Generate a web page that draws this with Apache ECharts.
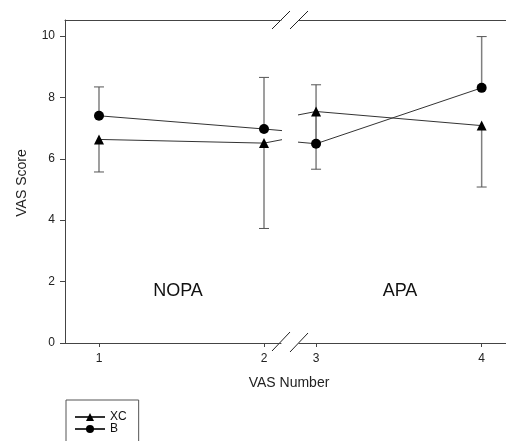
<!DOCTYPE html>
<html>
<head>
<meta charset="utf-8">
<script src="https://cdn.jsdelivr.net/npm/echarts@6/dist/echarts.min.js"></script>
<style>
html, body { margin: 0; padding: 0; background: #fff; }
#chart { width: 506px; height: 441px; }
</style>
</head>
<body>
<div id="chart"></div>
<script>
// values
var vasNumber = [1, 2, 3, 4];
var xcScore = [6.63, 6.51, 7.54, 7.08];
var xcErrDown = [1.06, 2.78, 1.88, 2.00];
var bScore = [7.40, 6.97, 6.49, 8.31];
var bErrUp = [0.94, 1.68, 1.92, 1.67];
var yTicks = [0, 2, 4, 6, 8, 10];
var leftTicks = [1, 2];
var rightTicks = [3, 4];

var FONT = "'Liberation Sans', Arial, sans-serif";
var AXIS = '#444';

function pairs(xs, ys) {
    return xs.map(function (x, i) { return [x, ys[i]]; });
}

// [x, mean, end of bar], only for the points that fall in the panel
function errData(xs, ys, errs, sign, keep) {
    var out = [];
    for (var i = 0; i < xs.length; i++) {
        if (keep.indexOf(xs[i]) >= 0) out.push([xs[i], ys[i], ys[i] + sign * errs[i]]);
    }
    return out;
}

function errBar(params, api) {
    var x = api.value(0);
    var p1 = api.coord([x, api.value(1)]);
    var p2 = api.coord([x, api.value(2)]);
    var cap = 5;
    return {
        type: 'group',
        children: [
            { type: 'line', shape: { x1: p1[0], y1: p1[1], x2: p2[0], y2: p2[1] },
              style: { stroke: '#7f7f7f', lineWidth: 1.5 } },
            { type: 'line', shape: { x1: p2[0] - cap, y1: p2[1], x2: p2[0] + cap, y2: p2[1] },
              style: { stroke: '#555', lineWidth: 1 } }
        ]
    };
}

function bottomAxis(grid, min, max, ticks) {
    return {
        type: 'value', gridIndex: grid, min: min, max: max, position: 'bottom',
        splitLine: { show: false },
        axisLine: { show: true, onZero: false, lineStyle: { color: AXIS, width: 1 } },
        axisTick: { show: true, length: 4, customValues: ticks, lineStyle: { color: AXIS } },
        axisLabel: { customValues: ticks, margin: 10, fontSize: 12, color: '#222', fontFamily: FONT }
    };
}

function topAxis(grid, min, max) {
    return {
        type: 'value', gridIndex: grid, min: min, max: max, position: 'top',
        splitLine: { show: false },
        axisLine: { show: true, onZero: false, lineStyle: { color: AXIS, width: 1 } },
        axisTick: { show: false }, axisLabel: { show: false }
    };
}

function lineSeries(name, xAxisIndex, yAxisIndex, data, symbol, size) {
    return {
        name: name, type: 'line', xAxisIndex: xAxisIndex, yAxisIndex: yAxisIndex,
        data: data, clip: true, symbol: symbol, symbolSize: size, z: 3,
        itemStyle: { color: '#000' },
        lineStyle: { color: '#333', width: 1 }
    };
}

function errSeries(name, xAxisIndex, yAxisIndex, data) {
    return {
        name: name, type: 'custom', xAxisIndex: xAxisIndex, yAxisIndex: yAxisIndex,
        data: data, renderItem: errBar, z: 2, silent: true
    };
}

var myChart = echarts.init(document.getElementById('chart'));

var xcPts = pairs(vasNumber, xcScore);
var bPts = pairs(vasNumber, bScore);

var option = {
    animation: false,
    backgroundColor: '#fff',
    textStyle: { fontFamily: FONT },
    grid: [
        { left: 65, top: 20, width: 216, bottom: 98 },
        { left: 299, top: 20, right: 0, bottom: 98 }
    ],
    xAxis: [
        bottomAxis(0, 0.794, 2.103, leftTicks),
        bottomAxis(1, 2.897, 4.147, rightTicks),
        topAxis(0, 0.794, 2.103),
        topAxis(1, 2.897, 4.147)
    ],
    yAxis: [
        {
            type: 'value', gridIndex: 0, min: 0, max: 10.52,
            splitLine: { show: false },
            axisLine: { show: true, lineStyle: { color: AXIS, width: 1 } },
            axisTick: { show: true, length: 5, customValues: yTicks, lineStyle: { color: AXIS } },
            axisLabel: { customValues: yTicks, margin: 10, fontSize: 12, color: '#222', fontFamily: FONT }
        },
        { type: 'value', gridIndex: 1, min: 0, max: 10.52, show: false }
    ],
    legend: {
        data: ['XC', 'B'],
        orient: 'vertical',
        left: 66, top: 400,
        height: 40,
        itemWidth: 30, itemHeight: 10, itemGap: 0,
        padding: [11, 12, 20, 8],
        borderColor: '#555', borderWidth: 1,
        textStyle: { fontSize: 12, color: '#111', fontFamily: FONT }
    },
    graphic: [
        // axis break marks
        { type: 'line', shape: { x1: 272, y1: 29, x2: 290, y2: 11 }, style: { stroke: '#222', lineWidth: 1 } },
        { type: 'line', shape: { x1: 290, y1: 29, x2: 308, y2: 11 }, style: { stroke: '#222', lineWidth: 1 } },
        { type: 'line', shape: { x1: 272, y1: 351, x2: 290, y2: 332 }, style: { stroke: '#222', lineWidth: 1 } },
        { type: 'line', shape: { x1: 290, y1: 352, x2: 308, y2: 333 }, style: { stroke: '#222', lineWidth: 1 } },
        { type: 'text', x: 22, y: 183, rotation: Math.PI / 2,
          style: { text: 'VAS Score', fontSize: 14, fontFamily: FONT, fill: '#222', align: 'center', verticalAlign: 'middle' } },
        { type: 'text', x: 289, y: 383,
          style: { text: 'VAS Number', fontSize: 14, fontFamily: FONT, fill: '#222', align: 'center', verticalAlign: 'middle' } },
        { type: 'text', x: 178, y: 291,
          style: { text: 'NOPA', fontSize: 18, fontFamily: FONT, fill: '#111', align: 'center', verticalAlign: 'middle' } },
        { type: 'text', x: 400, y: 291,
          style: { text: 'APA', fontSize: 18, fontFamily: FONT, fill: '#111', align: 'center', verticalAlign: 'middle' } }
    ],
    series: [
        lineSeries('XC', 0, 0, xcPts, 'triangle', 10),
        lineSeries('XC', 1, 1, xcPts, 'triangle', 10),
        lineSeries('B', 0, 0, bPts, 'circle', 10),
        lineSeries('B', 1, 1, bPts, 'circle', 10),
        errSeries('XC', 0, 0, errData(vasNumber, xcScore, xcErrDown, -1, leftTicks)),
        errSeries('XC', 1, 1, errData(vasNumber, xcScore, xcErrDown, -1, rightTicks)),
        errSeries('B', 0, 0, errData(vasNumber, bScore, bErrUp, 1, leftTicks)),
        errSeries('B', 1, 1, errData(vasNumber, bScore, bErrUp, 1, rightTicks))
    ]
};

myChart.setOption(option);
</script>
</body>
</html>
